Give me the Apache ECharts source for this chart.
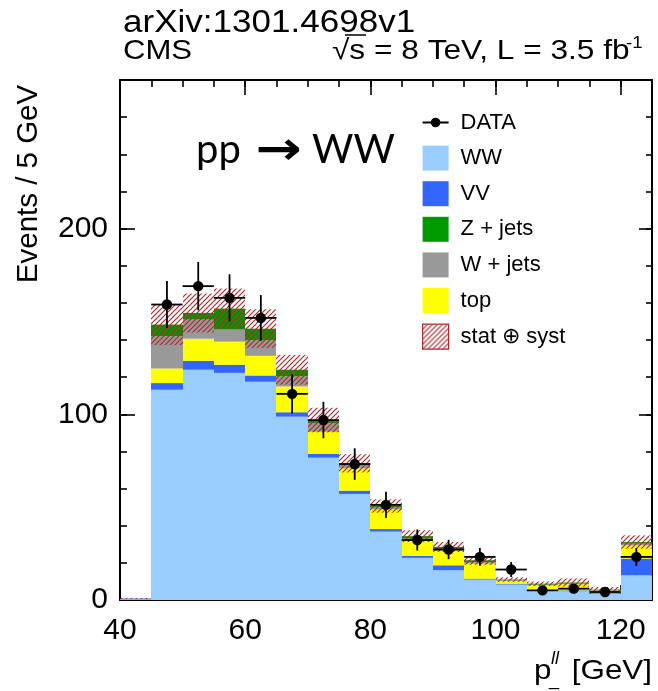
<!DOCTYPE html>
<html><head><meta charset="utf-8">
<script src="https://cdn.jsdelivr.net/npm/echarts@6/dist/echarts.min.js"></script>
<style>html,body{margin:0;padding:0;background:#fff}#c{width:658px;height:691px}</style>
</head><body><div id="c"></div>
<script>
// ---- data ----
const binLow = [40,45,50,55,60,65,70,75,80,85,90,95,100,105,110,115,120];
const binWidth = 5;
const wwVals   = [0.5,113.2,124.0,122.3,117.5,98.7,76.6,57.1,36.8,22.7,16.0,11.0,8.3,5.2,4.7,3.4,13.3];
const vvVals   = [0.3,3.6,4.8,4.4,3.4,2.4,2.1,1.8,1.4,1.1,2.7,0.5,0.5,0.4,0.5,0.6,9.0];
const topVals  = [0,7.9,11.9,12.4,10.6,13.9,11.9,12.0,10.6,8.0,8.1,8.1,1.5,2.3,3.3,0.9,7.2];
const wjetVals = [0,17.3,10.3,6.5,8.3,5.4,4.5,1.5,1.0,1.2,0.8,0.8,0.3,0.4,0.4,0.3,0.8];
const zjetVals = [0,6.3,3.6,11.3,6.3,3.6,1.8,1.2,0.8,1.4,1.0,1.0,0.4,0.5,0.5,0.4,0.9];
const uncVals  = [0.3,11.0,10.5,10.8,10.4,8.0,6.6,4.9,3.6,3.2,2.7,2.4,1.2,1.2,2.2,1.4,3.6];
const dataVals = [null,159.1,169.0,162.7,151.9,111.0,96.9,73.2,51.2,32.3,27.2,23.2,16.4,5.2,6.1,4.3,23.2];
const dataErrs = [null,12.7,13.0,12.7,12.3,10.5,9.8,8.5,7.1,5.7,5.2,4.8,4.0,2.3,2.5,2.1,4.8];
const xTickLabels = [40,60,80,100,120];
const yTickLabels = [0,100,200];

const FONT = "'Liberation Sans', Arial, Helvetica, sans-serif";
const HATCH = '#b0282c';

function hatchPattern() {
  const c = document.createElement('canvas');
  const s = 5;
  c.width = s; c.height = s;
  const g = c.getContext('2d');
  g.strokeStyle = HATCH; g.lineWidth = 1.2;
  g.beginPath();
  g.moveTo(0, s); g.lineTo(s, 0);
  g.moveTo(-1, 1); g.lineTo(1, -1);
  g.moveTo(s - 1, s + 1); g.lineTo(s + 1, s - 1);
  g.stroke();
  return { image: c, repeat: 'repeat' };
}
const hatch = hatchPattern();

function rectRender(fill) {
  return function (params, api) {
    const a = api.coord([api.value(0), api.value(3)]);
    const b = api.coord([api.value(1), api.value(2)]);
    const x0 = Math.round(a[0]), x1 = Math.round(b[0]);
    if (Math.abs(b[1] - a[1]) < 0.05) return null;
    return { type: 'rect', shape: { x: x0, y: a[1], width: x1 - x0, height: b[1] - a[1] }, style: { fill: fill } };
  };
}

const stackDefs = [
  { name: 'WW', vals: wwVals, color: '#99ccff' },
  { name: 'VV', vals: vvVals, color: '#3366ff' },
  { name: 'top', vals: topVals, color: '#ffff00' },
  { name: 'W + jets', vals: wjetVals, color: '#999999' },
  { name: 'Z + jets', vals: zjetVals, color: '#009900' }
];
const cum = binLow.map(() => 0);
const series = [];
stackDefs.forEach(d => {
  const rows = binLow.map((x, i) => { const y0 = cum[i]; cum[i] += d.vals[i]; return [x, x + binWidth, y0, cum[i]]; });
  series.push({ type: 'custom', name: d.name, xAxisIndex: 0, yAxisIndex: 0, silent: true,
    itemStyle: { color: d.color }, encode: { x: [0, 1], y: [2, 3] }, data: rows, renderItem: rectRender(d.color) });
});
series.push({ type: 'custom', name: 'stat ⊕ syst', xAxisIndex: 0, yAxisIndex: 0, silent: true,
  itemStyle: { color: hatch, borderColor: HATCH, borderWidth: 1 }, encode: { x: [0, 1], y: [2, 3] },
  data: binLow.map((x, i) => [x, x + binWidth, cum[i] - uncVals[i], cum[i] + uncVals[i]]),
  renderItem: rectRender(hatch) });
series.push({ type: 'custom', name: 'DATA', xAxisIndex: 0, yAxisIndex: 0, silent: true,
  itemStyle: { color: '#000' }, encode: { x: [0, 1], y: [2] },
  data: binLow.map((x, i) => dataVals[i] == null ? null : [x, x + binWidth, dataVals[i], dataErrs[i]]).filter(r => r),
  renderItem: function (params, api) {
    const x0 = api.value(0), x1 = api.value(1), v = api.value(2), e = api.value(3);
    const xm = (x0 + x1) / 2;
    const c = api.coord([xm, v]), l = api.coord([x0, v]), r = api.coord([x1, v]);
    const t = api.coord([xm, v + e]), b = api.coord([xm, v - e]);
    return { type: 'group', children: [
      { type: 'line', shape: { x1: l[0], y1: l[1], x2: r[0], y2: r[1] }, style: { stroke: '#000', lineWidth: 1.8 } },
      { type: 'line', shape: { x1: t[0], y1: t[1], x2: b[0], y2: b[1] }, style: { stroke: '#000', lineWidth: 1.8 } },
      { type: 'circle', shape: { cx: c[0], cy: c[1], r: 5.2 }, style: { fill: '#000' } }
    ] };
  } });

function axisBase(extra) {
  return Object.assign({ type: 'value', splitLine: { show: false } }, extra);
}
const xMin = 40, xMax = 125, yMin = 0, yMax = 280;
const lineBlack = { show: true, onZero: false, lineStyle: { color: '#000', width: 2 } };
const noLine = { show: false, onZero: false };

const option = {
  animation: false,
  backgroundColor: '#fff',
  grid: { left: 120, right: 6, top: 80, bottom: 91, containLabel: false },
  xAxis: [
    axisBase({ min: xMin, max: xMax, interval: 20, position: 'bottom', axisLine: lineBlack,
      axisTick: { inside: true, length: 15, lineStyle: { color: '#000', width: 1.6 } },
      axisLabel: { fontSize: 30, fontFamily: FONT, color: '#000', margin: 16,
        formatter: v => xTickLabels.indexOf(v) >= 0 ? String(v) : '' } }),
    axisBase({ min: xMin, max: xMax, interval: 5, position: 'bottom', axisLine: noLine,
      axisTick: { inside: true, length: 7, lineStyle: { color: '#000', width: 1.6 } }, axisLabel: { show: false } }),
    axisBase({ min: xMin, max: xMax, interval: 20, position: 'top', axisLine: lineBlack,
      axisTick: { inside: true, length: 15, lineStyle: { color: '#000', width: 1.6 } }, axisLabel: { show: false } }),
    axisBase({ min: xMin, max: xMax, interval: 5, position: 'top', axisLine: noLine,
      axisTick: { inside: true, length: 7, lineStyle: { color: '#000', width: 1.6 } }, axisLabel: { show: false } })
  ],
  yAxis: [
    axisBase({ min: yMin, max: yMax, interval: 100, position: 'left', axisLine: lineBlack,
      axisTick: { inside: true, length: 15, lineStyle: { color: '#000', width: 1.6 } },
      axisLabel: { fontSize: 30, fontFamily: FONT, color: '#000', margin: 12,
        formatter: v => yTickLabels.indexOf(v) >= 0 ? String(v) : '' } }),
    axisBase({ min: yMin, max: yMax, interval: 20, position: 'left', axisLine: noLine,
      axisTick: { inside: true, length: 7, lineStyle: { color: '#000', width: 1.6 } }, axisLabel: { show: false } }),
    axisBase({ min: yMin, max: yMax, interval: 100, position: 'right', axisLine: lineBlack,
      axisTick: { inside: true, length: 13, lineStyle: { color: '#000', width: 1.6 } }, axisLabel: { show: false } }),
    axisBase({ min: yMin, max: yMax, interval: 20, position: 'right', axisLine: noLine,
      axisTick: { inside: true, length: 6, lineStyle: { color: '#000', width: 1.6 } }, axisLabel: { show: false } })
  ],
  legend: {
    orient: 'vertical', left: 422, top: 110, itemWidth: 26, itemHeight: 25, itemGap: 10.6,
    selectedMode: false, padding: 0,
    textStyle: { fontSize: 22, fontFamily: FONT, color: '#000', padding: [0, 0, 0, 7], lineHeight: 25 },
    data: [
      { name: 'DATA', icon: 'path://M0,0 M26,25 M0,11.6 L26,11.6 L26,13.4 L0,13.4 Z M17.8,12.5 A4.8,4.8 0 1 1 8.2,12.5 A4.8,4.8 0 1 1 17.8,12.5 Z', itemStyle: { color: '#000' } },
      { name: 'WW', icon: 'rect' },
      { name: 'VV', icon: 'rect' },
      { name: 'Z + jets', icon: 'rect' },
      { name: 'W + jets', icon: 'rect' },
      { name: 'top', icon: 'rect' },
      { name: 'stat ⊕ syst', icon: 'rect', itemStyle: { color: hatch, borderColor: HATCH, borderWidth: 1.2 } }
    ]
  },
  graphic: [
    { type: 'text', x: 123, y: 23, scaleX: 1.13, style: { text: 'arXiv:1301.4698v1', x: 0, y: 0, fontSize: 31, fontFamily: FONT, fill: '#000', textAlign: 'left', textVerticalAlign: 'middle', verticalAlign: 'middle' } },
    { type: 'text', x: 123, y: 51.5, scaleX: 1.11, style: { text: 'CMS', x: 0, y: 0, fontSize: 28, fontFamily: FONT, fill: '#000', textAlign: 'left', textVerticalAlign: 'middle', verticalAlign: 'middle' } },
    { type: 'text', x: 332, y: 51.5, scaleX: 1.13, style: { text: '√s = 8 TeV, L = 3.5 fb', x: 0, y: 0, fontSize: 28, fontFamily: FONT, fill: '#000', textAlign: 'left', textVerticalAlign: 'middle', verticalAlign: 'middle' } },
    { type: 'line', shape: { x1: 345, y1: 35, x2: 366, y2: 35 }, style: { stroke: '#000', lineWidth: 1.5 } },
    { type: 'text', x: 626, y: 43, scaleX: 1.1, style: { text: '-1', x: 0, y: 0, fontSize: 17, fontFamily: FONT, fill: '#000', textAlign: 'left', textVerticalAlign: 'middle', verticalAlign: 'middle' } },
    { type: 'text', x: 29, y: 184, rotation: Math.PI / 2, style: { text: 'Events / 5 GeV', x: 0, y: 0, fontSize: 29.5, fontFamily: FONT, fill: '#000', textAlign: 'center', textVerticalAlign: 'middle', verticalAlign: 'middle' } },
    { type: 'text', x: 196, y: 150, style: { text: 'pp', x: 0, y: 0, fontSize: 40, fontFamily: "Lato, 'Open Sans', sans-serif", fill: '#000', textAlign: 'left', textVerticalAlign: 'middle', verticalAlign: 'middle' } },
    { type: 'text', x: 279, y: 152, scaleX: 1.2, style: { text: '→', x: 0, y: 0, fontSize: 46, fontWeight: 'bold', fontFamily: "'DejaVu Sans', sans-serif", fill: '#000', textAlign: 'center', textVerticalAlign: 'middle', verticalAlign: 'middle' } },
    { type: 'text', x: 312, y: 150, style: { text: 'WW', x: 0, y: 0, fontSize: 40, fontFamily: "Lato, 'Open Sans', sans-serif", fill: '#000', textAlign: 'left', textVerticalAlign: 'middle', verticalAlign: 'middle' } },
    { type: 'text', x: 534, y: 671, scaleX: 1.12, style: { text: 'p', x: 0, y: 0, fontSize: 28, fontFamily: FONT, fill: '#000', textAlign: 'left', textVerticalAlign: 'middle', verticalAlign: 'middle' } },
    { type: 'text', x: 551, y: 659, style: { text: 'll', x: 0, y: 0, fontSize: 18, fontStyle: 'italic', fontFamily: FONT, fill: '#000', textAlign: 'left', textVerticalAlign: 'middle', verticalAlign: 'middle' } },
    { type: 'text', x: 549, y: 680, style: { text: '_', x: 0, y: 0, fontSize: 18, fontFamily: FONT, fill: '#000', textAlign: 'left', textVerticalAlign: 'middle', verticalAlign: 'middle' } },
    { type: 'text', x: 652, y: 671, scaleX: 1.12, style: { text: '[GeV]', x: 0, y: 0, fontSize: 28, fontFamily: FONT, fill: '#000', textAlign: 'right', textVerticalAlign: 'middle', verticalAlign: 'middle' } }
  ],
  series: series
};

const chart = echarts.init(document.getElementById('c'), null, { renderer: 'canvas' });
chart.setOption(option);
</script>
</body></html>
